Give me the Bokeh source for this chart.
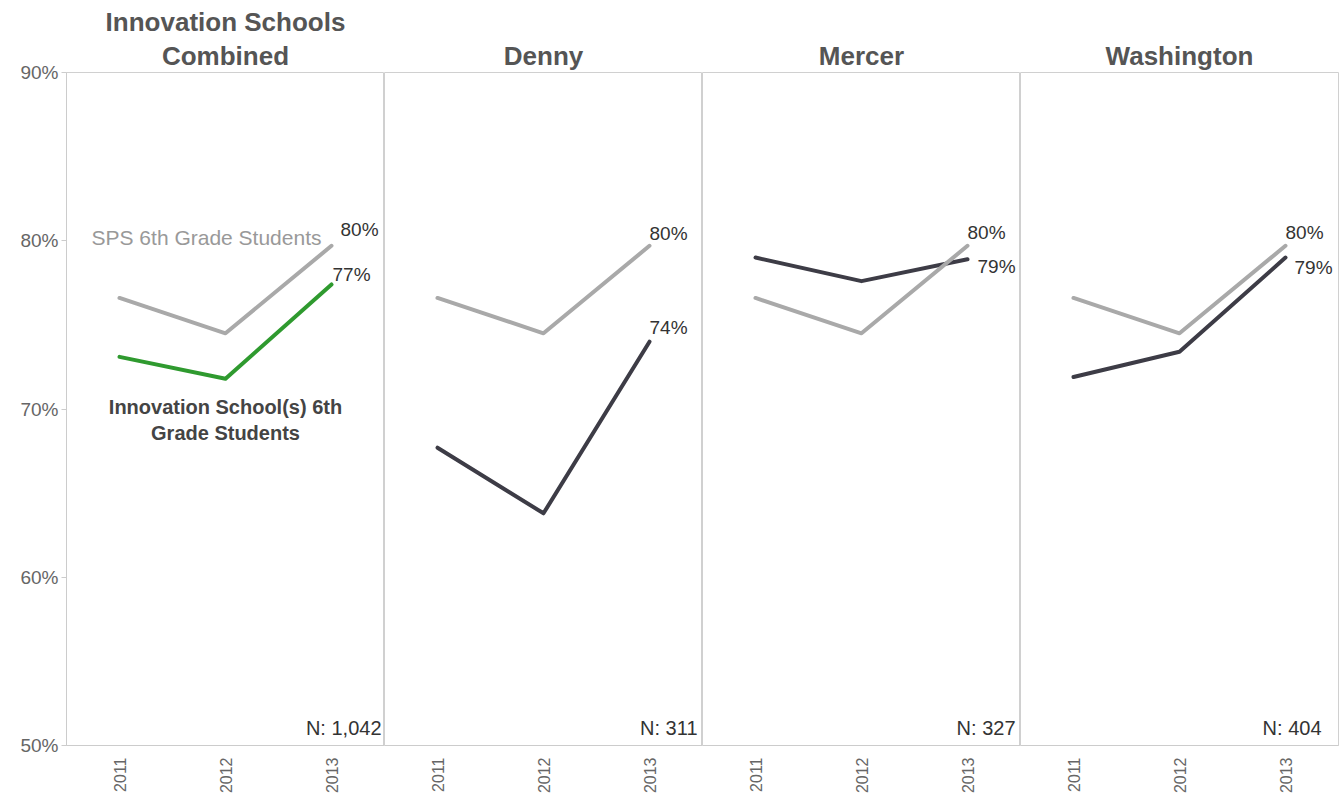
import math
from bokeh.plotting import figure
from bokeh.layouts import row
from bokeh.models import Range1d, FactorRange, FixedTicker, PrintfTickFormatter, Title
from bokeh.core.properties import value
from bokeh.embed import file_html
from bokeh.resources import INLINE

# ---------------- data ----------------
years = ["2011", "2012", "2013"]
panel_titles = [["Innovation Schools", "Combined"], ["Denny"], ["Mercer"], ["Washington"]]
sps_values = [76.6, 74.5, 79.7]
combined_values = [73.1, 71.8, 77.4]
denny_values = [67.7, 63.8, 74.0]
mercer_values = [79.0, 77.6, 78.9]
washington_values = [71.9, 73.4, 79.0]
n_counts = [1042, 311, 327, 404]
y_ticks = [50, 60, 70, 80, 90]
sps_label = "SPS 6th Grade Students"
school_label_lines = ["Innovation School(s) 6th", "Grade Students"]

school_series = [combined_values, denny_values, mercer_values, washington_values]

# ---------------- style ----------------
FONT = "Liberation Sans"
SPS_COLOR = "#a9a9a9"
school_colors = ["#2f9a2f", "#3d3c46", "#3d3c46", "#3d3c46"]
sps_label_offsets = [(9, -16), (0, -12), (0, -13), (0, -13)]
school_label_offsets = [(1, -10), (0, -14), (10, 7), (9, 10)]
n_label_dx = [50, 48, 48, 36]
FRAME_W = 318
LEFT_BORDER = 66
RIGHT_BORDER_LAST = 4
TOP_BORDER = 72
BOTTOM_BORDER = 53
HEIGHT = 798
Y0, Y1 = 50, 90


def style_title(t, standoff):
    t.align = "center"
    t.text_font = FONT
    t.text_font_size = "26px"
    t.text_font_style = "bold"
    t.text_color = "#555555"
    t.standoff = standoff


plots = []
for i, title_lines in enumerate(panel_titles):
    first = i == 0
    last = i == len(panel_titles) - 1
    width = FRAME_W + (LEFT_BORDER if first else 0) + (RIGHT_BORDER_LAST if last else 0)
    p = figure(width=width, height=HEIGHT,
               x_range=FactorRange(*years), y_range=Range1d(Y0, Y1),
               output_backend="svg", toolbar_location=None,
               y_axis_location="left" if first else None,
               min_border_left=LEFT_BORDER if first else 0,
               min_border_right=RIGHT_BORDER_LAST if last else 0,
               min_border_top=TOP_BORDER, min_border_bottom=BOTTOM_BORDER)
    p.grid.visible = False
    p.outline_line_color = "#d0d0d0"
    p.background_fill_color = "white"
    p.border_fill_color = "white"

    # title: p.title is the outermost line, extra Title objects stack inward
    p.title.text = title_lines[0]
    style_title(p.title, 0 if len(title_lines) > 1 else 4)
    for k, extra in enumerate(title_lines[1:]):
        t = Title(text=extra)
        style_title(t, 4 if k == len(title_lines) - 2 else 0)
        p.add_layout(t, "above")

    xa = p.xaxis[0]
    xa.major_tick_line_color = None
    xa.major_tick_out = 0
    xa.major_tick_in = 0
    xa.axis_line_color = "#cccccc"
    xa.major_label_orientation = math.pi / 2
    xa.major_label_text_font = FONT
    xa.major_label_text_font_size = "16px"
    xa.major_label_text_color = "#666666"
    xa.major_label_standoff = 12

    if first:
        ax = p.yaxis[0]
        ax.ticker = FixedTicker(ticks=y_ticks)
        ax.formatter = PrintfTickFormatter(format="%d%%")
        ax.major_label_text_font = FONT
        ax.major_label_text_font_size = "19px"
        ax.major_label_text_color = "#666666"
        ax.major_tick_out = 5
        ax.major_tick_in = 0
        ax.major_tick_line_color = "#cccccc"
        ax.axis_line_color = "#cccccc"
        ax.minor_tick_line_color = None
        ax.major_label_standoff = 3

    vals = school_series[i]
    p.line(x=years, y=vals, line_width=4, line_color=school_colors[i],
           line_cap="round", line_join="round")
    p.line(x=years, y=sps_values, line_width=4, line_color=SPS_COLOR,
           line_cap="round", line_join="round")

    # end labels
    dx, dy = sps_label_offsets[i]
    p.text(x=[years[-1]], y=[sps_values[-1]], text=[f"{round(sps_values[-1])}%"],
           x_offset=dx, y_offset=dy, text_font=value(FONT), text_font_size="19px",
           text_color="#333333", text_align="left", text_baseline="alphabetic")
    dx, dy = school_label_offsets[i]
    p.text(x=[years[-1]], y=[vals[-1]], text=[f"{round(vals[-1])}%"],
           x_offset=dx, y_offset=dy, text_font=value(FONT), text_font_size="19px",
           text_color="#333333", text_align="left", text_baseline="alphabetic")

    # N label
    p.text(x=[years[-1]], y=[Y0], text=[f"N: {n_counts[i]:,}"],
           x_offset=n_label_dx[i], y_offset=-18, text_font=value(FONT),
           text_font_size="20px", text_color="#333333",
           text_align="right", text_baseline="alphabetic")

    if first:
        p.text(x=[years[1]], y=[80], text=[sps_label], x_offset=-19, y_offset=-3,
               text_font=value(FONT), text_font_size="21px", text_color="#999999",
               text_align="center", text_baseline="middle")
        p.text(x=[years[1]] * 2, y=[70, 70], text=school_label_lines,
               x_offset=0, y_offset=[-2, 24],
               text_font=value(FONT), text_font_size="20px", text_font_style="bold",
               text_color="#444444", text_align="center", text_baseline="middle")

    plots.append(p)

layout = row(*plots)
open("out.html", "w").write(file_html(layout, INLINE))
